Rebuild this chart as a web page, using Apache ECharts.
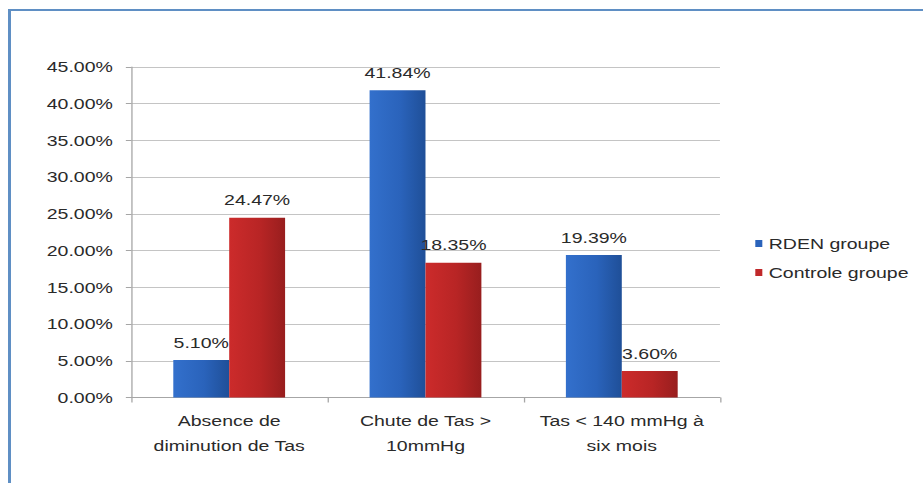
<!DOCTYPE html>
<html>
<head>
<meta charset="utf-8">
<script src="https://cdn.jsdelivr.net/npm/echarts@6/dist/echarts.min.js"></script>
<style>
  html, body { margin: 0; padding: 0; background: #ffffff; overflow: hidden; }
  #frame { position: absolute; left: 8px; top: 9px; width: 1000px; height: 600px;
           border-top: 2px solid #5f8fc4; border-left: 3px solid #5f8fc4; box-sizing: border-box; }
  #chart { position: absolute; left: 0; top: 0; width: 710px; height: 483px;
           transform: scaleX(1.3); transform-origin: 0 0; }
</style>
</head>
<body>
<div id="frame"></div>
<div id="chart"></div>
<script>
// ---- data ----
var categories = ['Absence de\ndiminution de Tas', 'Chute de Tas >\n10mmHg', 'Tas < 140 mmHg à\nsix mois'];
var seriesNames = ['RDEN groupe', 'Controle groupe'];
var rdenValues = [5.10, 41.84, 19.39];
var controleValues = [24.47, 18.35, 3.60];
var yTicks = { min: 0, max: 45, interval: 5 };

var FONT = '"Liberation Sans", Arial, sans-serif';
var TEXT = '#2a2a2a';
var chart = echarts.init(document.getElementById('chart'), null, { renderer: 'svg' });

function grad(stops) {
  return new echarts.graphic.LinearGradient(0, 0, 1, 0, stops);
}
var blue = grad([{ offset: 0, color: '#3370cc' }, { offset: 0.55, color: '#2a63bb' }, { offset: 1, color: '#1f4f98' }]);
var red = grad([{ offset: 0, color: '#cc2b2b' }, { offset: 0.55, color: '#b82525' }, { offset: 1, color: '#981e1e' }]);

var labelCfg = {
  show: true, position: 'top', distance: 10,
  fontFamily: FONT, fontSize: 15, color: TEXT,
  formatter: function (p) { return p.value.toFixed(2) + '%'; }
};

chart.setOption({
  animation: false,
  backgroundColor: 'transparent',
  grid: { left: 100.8, right: 156.2, top: 67, bottom: 85.5 },
  legend: {
    orient: 'vertical', left: 576, top: 231,
    itemWidth: 5.4, itemHeight: 7, itemGap: 14, icon: 'rect',
    textStyle: { fontFamily: FONT, fontSize: 15, color: TEXT },
    data: [
      { name: seriesNames[0], itemStyle: { color: '#2a63bb' } },
      { name: seriesNames[1], itemStyle: { color: '#c0282a' } }
    ]
  },
  xAxis: {
    type: 'category', data: categories,
    axisLine: { lineStyle: { color: '#a6a6a6', width: 1 } },
    axisTick: { show: true, length: 5, lineStyle: { color: '#a6a6a6' } },
    axisLabel: { fontFamily: FONT, fontSize: 15, color: TEXT, lineHeight: 25, margin: 11, interval: 0 }
  },
  yAxis: {
    type: 'value', min: yTicks.min, max: yTicks.max, interval: yTicks.interval,
    axisLine: { show: true, lineStyle: { color: '#a6a6a6', width: 1 } },
    axisTick: { show: true, length: 4, lineStyle: { color: '#a6a6a6' } },
    splitLine: { lineStyle: { color: '#c4c4c4', width: 1 } },
    axisLabel: { fontFamily: FONT, fontSize: 15, color: TEXT, margin: 14,
      formatter: function (v) { return v.toFixed(2) + '%'; } }
  },
  series: [
    { name: seriesNames[0], type: 'bar', data: rdenValues, barWidth: 43, barGap: '0%',
      itemStyle: { color: blue }, label: labelCfg },
    { name: seriesNames[1], type: 'bar', data: controleValues, barWidth: 43, barGap: '0%',
      itemStyle: { color: red }, label: labelCfg }
  ]
});
</script>
</body>
</html>
